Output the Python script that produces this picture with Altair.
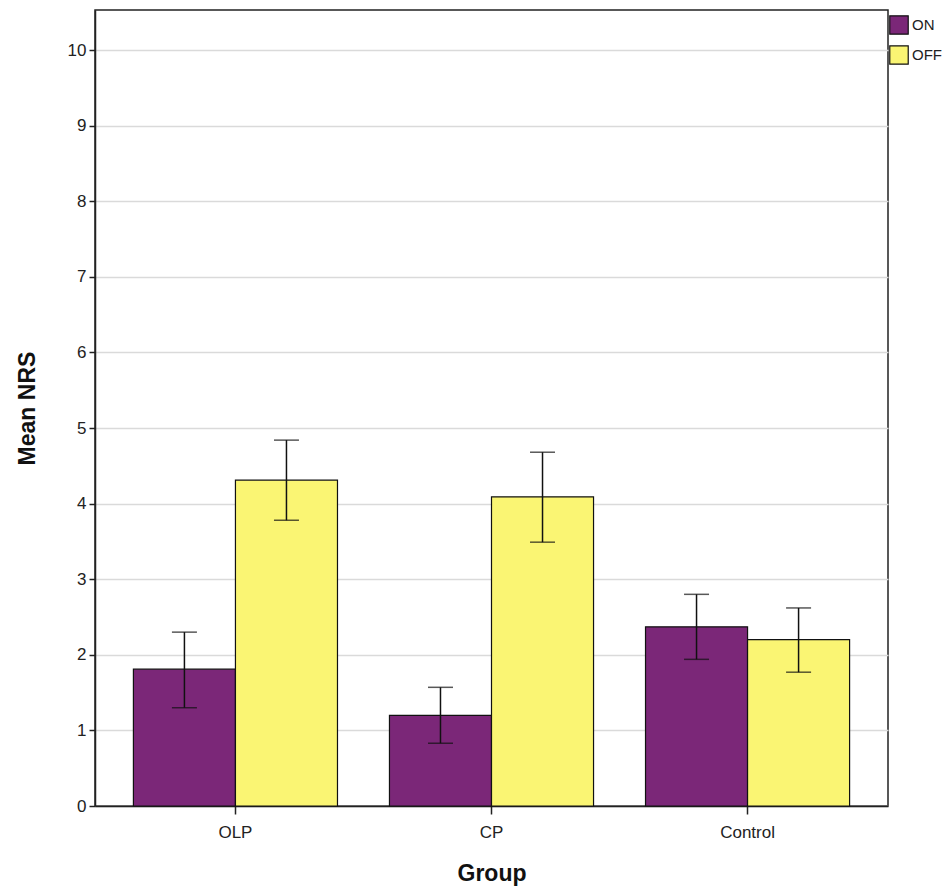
import altair as alt
import pandas as pd

groups = ["OLP", "CP", "Control"]
conditions = ["ON", "OFF"]
on_means = [1.81, 1.20, 2.37]
off_means = [4.31, 4.09, 2.20]
on_low = [1.30, 0.83, 1.94]
on_high = [2.30, 1.57, 2.80]
off_low = [3.78, 3.49, 1.77]
off_high = [4.84, 4.68, 2.62]

rows = []
for i, g in enumerate(groups):
    rows.append({"Group": g, "Cond": "ON", "mean": on_means[i], "lo": on_low[i], "hi": on_high[i]})
    rows.append({"Group": g, "Cond": "OFF", "mean": off_means[i], "lo": off_low[i], "hi": off_high[i]})
df = pd.DataFrame(rows)

FONT = "Liberation Sans"

x = alt.X("Group:N", sort=groups, title="Group",
          scale=alt.Scale(paddingInner=0.203, paddingOuter=0.15),
          axis=alt.Axis(labelAngle=0, labelFontSize=17, labelFont=FONT, labelColor="#222",
                        titleFontSize=23, titleFont=FONT, titleFontWeight="bold", titleColor="#111",
                        titlePadding=22, tickSize=8, tickColor="#222", tickWidth=1.5,
                        domainColor="#222", domainWidth=1.5, labelPadding=10))
xo = alt.XOffset("Cond:N", sort=conditions, scale=alt.Scale(paddingInner=0, paddingOuter=0))
yscale = alt.Scale(domain=[0, 10.53], nice=False)

bars = alt.Chart(df).mark_bar(stroke="#111", strokeWidth=1.2).encode(
    x=x,
    xOffset=xo,
    y=alt.Y("mean:Q", scale=yscale, title="Mean NRS",
            axis=alt.Axis(values=list(range(0, 11)), format="d", labelFontSize=17, labelFont=FONT,
                          labelColor="#222",
                          titleFontSize=23, titleFont=FONT, titleFontWeight="bold", titleColor="#111",
                          titlePadding=28, tickSize=6, tickColor="#222", tickWidth=1.5,
                          domainColor="#222", domainWidth=1.5, grid=True, gridColor="#DADADA",
                          gridWidth=1.5, labelPadding=3)),
    color=alt.Color("Cond:N", sort=conditions,
                    scale=alt.Scale(domain=conditions, range=["#7B2778", "#FAF573"]),
                    legend=alt.Legend(title=None, orient="none", legendX=794, legendY=5,
                                      symbolType="square", symbolSize=340, symbolStrokeColor="#111",
                                      symbolStrokeWidth=1.2, labelFontSize=15, labelFont=FONT,
                                      labelColor="#222", rowPadding=6, labelOffset=3)),
)

rules = alt.Chart(df).mark_rule(color="#111", strokeWidth=1.5).encode(
    x=x, xOffset=xo, y=alt.Y("lo:Q", scale=yscale), y2="hi:Q"
)
cap_lo = alt.Chart(df).mark_tick(color="#111", thickness=1.5, size=25, orient="horizontal").encode(
    x=x, xOffset=xo, y=alt.Y("lo:Q", scale=yscale)
)
cap_hi = alt.Chart(df).mark_tick(color="#111", thickness=1.5, size=25, orient="horizontal").encode(
    x=x, xOffset=xo, y=alt.Y("hi:Q", scale=yscale)
)

chart = alt.layer(bars, rules, cap_lo, cap_hi).properties(
    width=793, height=796,
    autosize=alt.AutoSizeParams(type="none"),
    padding={"left": 87, "top": 2, "right": 54, "bottom": 80},
).configure_view(stroke="#222", strokeWidth=1.5)

chart.save("out.html", embed_options={"renderer": "svg", "actions": False})
